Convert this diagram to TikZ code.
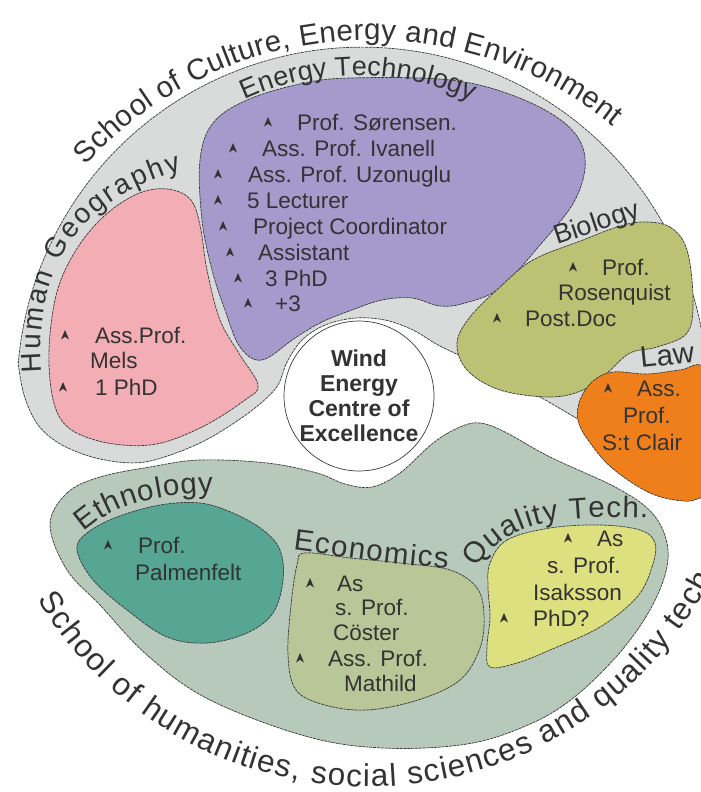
\documentclass[tikz,border=0pt]{standalone}
\usepackage{fontspec}
\setmainfont{Liberation Sans}
\usetikzlibrary{decorations.text}
\definecolor{txt}{HTML}{333333}
\definecolor{edge}{HTML}{3A3A3A}
\definecolor{grayS}{HTML}{D9DBDA}
\definecolor{greenS}{HTML}{B6C9BB}
\definecolor{purpleB}{HTML}{A49ACB}
\definecolor{pinkB}{HTML}{F3AEB5}
\definecolor{bioB}{HTML}{BCC274}
\definecolor{lawB}{HTML}{EF7F1A}
\definecolor{ethB}{HTML}{57A593}
\definecolor{ecoB}{HTML}{B9C698}
\definecolor{qualB}{HTML}{DDE07F}
\newcommand\myitemfont{\fontsize{22.5}{26}\selectfont}
\newcommand\mylabfont{\fontsize{27}{30}\selectfont}
\newcommand\mybiglabfont{\fontsize{29.5}{32}\selectfont}
\newcommand\myschoolfont{\fontsize{29.5}{34}\selectfont}
\newcommand\mylowschoolfont{\fontsize{31.5}{36}\selectfont}
\tikzset{
  blob/.style={draw=edge, line width=0.7pt, dash pattern=on 3pt off 0.8pt},
  item/.style={anchor=base west, inner sep=0pt, text=txt, font=\myitemfont},
  lab/.style={anchor=base west, inner sep=0pt, text=txt, font=\mylabfont},
  blt/.pic={\fill[txt] (0,-5) -- (4,4.5) -- (0,1.8) -- (-4,4.5) -- cycle;},
  curvetext/.style={decorate, decoration={text along path, text align={fit to path}, text={#1}}}
}
\begin{document}
\begin{tikzpicture}[x=1pt,y=-1pt]
\fill[white] (0,0) rectangle (701,792);
\useasboundingbox (0,0) rectangle (701,792);

% upper school (gray)
\path[blob, fill=grayS] (692,493) arc[start angle=17, end angle=-175, radius=345]
  -- plot[smooth, tension=0.55] coordinates {(18,362) (24,395) (38,425) (62,445) (100,459) (145,462) (200,443) (247,414) (276,388) (287,362) (302,340) (325,325) (355,318) (385,320) (413,330) (440,346) (490,370) (547,401) (613,440) (663,470) (688,488)} -- cycle;

% lower school (green)
\path[blob, fill=greenS] plot[smooth cycle, tension=0.6] coordinates {(50,525) (67,493) (100,477) (150,467) (200,460) (267,463) (317,473) (345,484) (372,487) (400,473) (433,443) (460,427) (480,423) (505,432) (550,457) (617,488) (652,513) (667,543) (665,575) (647,615) (616,657) (572,699) (528,725) (467,744) (383,748) (305,736) (208,699) (147,655) (100,605) (67,570)};

% centre
\node[circle, draw=edge, line width=0.7pt, fill=white, minimum size=142pt, inner sep=0pt, align=center, text=txt, font=\bfseries\fontsize{23}{25}\selectfont] (wec) at (359,396) {Wind\\Energy\\Centre of\\Excellence};

% department blobs
\path[blob, fill=purpleB] plot[smooth cycle, tension=0.6] coordinates {(200,160) (213,123) (247,100) (300,84) (350,78) (450,80) (517,97) (567,125) (585,158) (575,200) (540,245) (500,288) (465,303) (440,306) (412,298) (382,300) (352,310) (322,322) (295,338) (262,360) (240,347) (225,310) (212,270) (202,220)};
\path[blob, fill=pinkB] plot[smooth cycle, tension=0.6] coordinates {(167,189) (190,199) (200,225) (207,270) (220,320) (240,355) (258,385) (245,400) (200,428) (150,445) (95,440) (60,418) (49,365) (55,300) (73,255) (102,218) (137,194)};
\path[blob, fill=bioB] plot[smooth cycle, tension=0.6] coordinates {(643,222) (670,227) (687,250) (693,300) (687,333) (657,347) (630,353) (607,373) (583,390) (550,397) (500,390) (467,370) (457,343) (470,317) (500,287) (533,260) (583,240) (617,227)};
\path[blob, fill=lawB] plot[smooth cycle, tension=0.6] coordinates {(580,400) (593,381) (613,372) (647,374) (680,370) (705,368) (725,420) (715,490) (700,498) (683,501) (650,493) (612,468) (588,440) (578,420)};
\path[blob, fill=ethB] plot[smooth cycle, tension=0.6] coordinates {(77,550) (87,533) (117,517) (160,505) (200,503) (233,513) (263,530) (280,550) (283,580) (273,613) (247,633) (207,643) (167,637) (127,610) (93,580)};
\path[blob, fill=ecoB] plot[smooth cycle, tension=0.6] coordinates {(305,553) (350,558) (400,563) (450,570) (477,588) (484,615) (480,648) (460,680) (418,700) (367,710) (325,705) (296,690) (288,655) (291,605) (297,565)};
\path[blob, fill=qualB] plot[smooth cycle, tension=0.6] coordinates {(490,563) (507,540) (550,528) (600,525) (640,530) (655,543) (652,567) (637,597) (600,627) (550,650) (517,663) (490,667) (487,647) (490,617) (488,587)};

% school titles
\path[curvetext={|\color{txt}\myschoolfont|School of Culture, Energy and Environment}] (85.4,165.2) arc[start angle=-137.5, end angle=-51, radius=386];
\path[curvetext={|\color{txt}\mylowschoolfont|School of humanities, social sciences and quality tech.}] (37.6,599.7) arc[start angle=148.9, end angle=26, radius=387];

% department titles
\path[curvetext={|\color{txt}\mylabfont|Energy Technology}] (245,100) arc[start angle=-114.7, end angle=-65, radius=270];
\path[curvetext={|\color{txt}\fontsize{28}{30}\selectfont|Human Geography}] (42,372) .. controls (35,285) and (62,205) .. (182,170);
\path[curvetext={|\color{txt}\mybiglabfont|Ethnology}] (84,532) .. controls (110,508) and (150,494) .. (213,493);
\path[curvetext={|\color{txt}\mybiglabfont|Economics}] (293,550) .. controls (340,556) and (400,566) .. (448,568);
\path[curvetext={|\color{txt}\mybiglabfont|Quality Tech.}] (476,568) .. controls (508,520) and (560,515) .. (648,518);
\node[lab, rotate=18.5] (biol) at (557,245) {Biology};
\node[lab, rotate=6, font=\mybiglabfont] (law) at (641,368) {Law};

% Energy Technology staff
\pic at (268,122) {blt}; \node[item] (et1) at (297,130) {Prof. Sørensen.};
\pic at (233,148) {blt}; \node[item] (et2) at (262,156) {Ass. Prof. Ivanell};
\pic at (218,174) {blt}; \node[item] (et3) at (248,182) {Ass. Prof. Uzonuglu};
\pic at (218,200) {blt}; \node[item] (et4) at (247,208) {5 Lecturer};
\pic at (223,226) {blt}; \node[item] (et5) at (253,234) {Project Coordinator};
\pic at (230,252) {blt}; \node[item] (et6) at (258,260) {Assistant};
\pic at (238,278) {blt}; \node[item] (et7) at (265,286) {3 PhD};
\pic at (248,303) {blt}; \node[item] (et8) at (275,311) {+3};

% Human Geography
\pic at (65,335) {blt}; \node[item] (hg1) at (95,343) {Ass.Prof.};
\node[item] (hg2) at (90,368) {Mels};
\pic at (63,387) {blt}; \node[item] (hg3) at (95,395) {1 PhD};

% Biology
\pic at (573,267) {blt}; \node[item] (bi1) at (602,275) {Prof.};
\node[item] (bi2) at (558,300) {Rosenquist};
\pic at (497,318) {blt}; \node[item] (bi3) at (525,326) {Post.Doc};

% Law
\pic at (608,388) {blt}; \node[item] (la1) at (637,396) {Ass.};
\node[item] (la2) at (623,423) {Prof.};
\node[item] (la3) at (602,450) {S:t Clair};

% Ethnology
\pic at (108,545) {blt}; \node[item] (eth1) at (138,553) {Prof.};
\node[item] (eth2) at (135,580) {Palmenfelt};

% Economics
\pic at (310,583) {blt}; \node[item] (ec1) at (337,591) {As};
\node[item] (ec2) at (335,615) {s. Prof.};
\node[item] (ec3) at (333,640) {Cöster};
\pic at (300,658) {blt}; \node[item] (ec4) at (328,666) {Ass. Prof.};
\node[item] (ec5) at (344,691) {Mathild};

% Quality Technology
\pic at (568,538) {blt}; \node[item] (qt1) at (597,546) {As};
\node[item] (qt2) at (547,573) {s. Prof.};
\node[item] (qt3) at (533,600) {Isaksson};
\pic at (504,618) {blt}; \node[item] (qt4) at (533,626) {PhD?};
\end{tikzpicture}
\end{document}
